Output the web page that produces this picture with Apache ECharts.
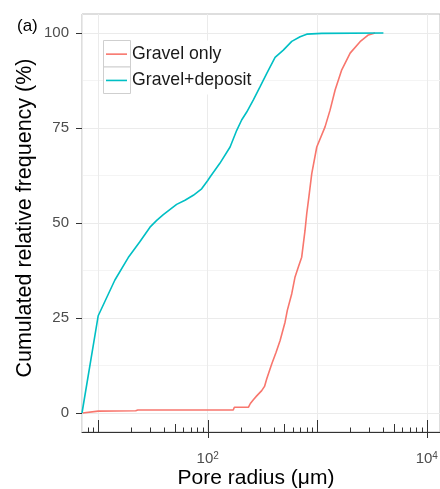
<!DOCTYPE html>
<html>
<head>
<meta charset="utf-8">
<script src="https://cdn.jsdelivr.net/npm/echarts@6/dist/echarts.min.js"></script>
<style>
  html, body { margin: 0; padding: 0; background: #fff; }
  #chart { width: 440px; height: 489px; }
</style>
</head>
<body>
<div id="chart"></div>
<script>
// pore radius (um) and cumulated frequency (%)
const gravelRadius = [7.2, 10, 22, 23, 171, 175, 235, 245, 261, 280, 311, 330, 346, 384, 421, 458, 508, 533, 585, 627, 672, 721, 774, 802, 840, 891, 990, 1178, 1309, 1456, 1674, 1997, 2460, 2930, 3370]
const gravelFreq = [0, 0.5, 0.6, 0.8, 0.8, 1.5, 1.5, 2.5, 3.5, 4.5, 5.9, 7, 9.0, 12.9, 16, 19.1, 23.9, 27, 31.4, 35.8, 38.4, 41, 48.1, 52.5, 57, 63, 70, 75.3, 79.7, 85, 90.3, 94.7, 97.7, 99.5, 100]
const depositRadius = [7.11, 10, 14.2, 18.8, 23.9, 29.7, 34.2, 39.3, 52, 62, 73.8, 88, 100, 105, 129, 160, 184, 204, 227, 261, 300, 346, 412, 490, 585, 697, 802, 1100, 4020]
const depositFreq = [0, 25.6, 35, 40.9, 45.0, 48.9, 50.7, 52.2, 54.9, 56.0, 57.3, 59.0, 61.2, 62.1, 65.7, 70, 74.4, 77.1, 79.2, 82.4, 85.8, 89.4, 93.6, 95.5, 97.8, 99.0, 99.7, 99.9, 100]

const yTickValues = [0, 25, 50, 75, 100]
const yMinorValues = [12.5, 37.5, 62.5, 87.5]
const xLabelPowers = [2, 4]
const xMin = 7.11
const xMax = 13210
const yMin = -5
const yMax = 105

// annotation log ticks: 1..9 x 10^e inside the axis range
const logTicks = []
for (let e = 0; e <= 4; e++) {
  for (let m = 1; m <= 9; m++) {
    const v = m * Math.pow(10, e)
    if (v >= xMin && v <= xMax) {
      const kind = m === 1 ? 2 : (m === 5 ? 1 : 0)
      const labelled = m === 1 && xLabelPowers.indexOf(e) >= 0 ? 1 : 0
      logTicks.push([v, yMin, kind, labelled])
    }
  }
}

const font = 'Liberation Sans, Arial, sans-serif'
const chart = echarts.init(document.getElementById('chart'))

chart.setOption({
  animation: false,
  textStyle: { fontFamily: font },
  grid: {
    left: 82,
    right: 0,
    top: 14,
    bottom: 57,
    outerBoundsMode: 'none',
    show: true,
    borderColor: '#bdbdbd',
    borderWidth: 1
  },
  legend: {
    orient: 'vertical',
    left: 106,
    top: 41,
    icon: 'rect',
    itemWidth: 21,
    itemHeight: 1.6,
    itemGap: 0,
    padding: 0,
    z: 10,
    textStyle: { fontSize: 17.7, lineHeight: 26.3, color: '#1a1a1a', fontFamily: font },
    data: ['Gravel only', 'Gravel+deposit']
  },
  graphic: [
    { type: 'rect', z: 1, shape: { x: 103, y: 40.5, width: 154, height: 54 }, style: { fill: '#fff' } },
    { type: 'rect', z: 1, shape: { x: 103.5, y: 40.5, width: 27, height: 26.5 }, style: { fill: '#fff', stroke: '#cfcfcf', lineWidth: 1 } },
    { type: 'rect', z: 1, shape: { x: 103.5, y: 67, width: 27, height: 26.5 }, style: { fill: '#fff', stroke: '#cfcfcf', lineWidth: 1 } },
    { type: 'text', left: 17, top: 18, style: { text: '(a)', fontSize: 17, fill: '#000', fontFamily: font } }
  ],
  xAxis: {
    type: 'log',
    logBase: 10,
    min: xMin,
    max: xMax,
    name: 'Pore radius (μm)',
    nameLocation: 'middle',
    nameGap: 35.5,
    nameMoveOverlap: false,
    nameTextStyle: { fontSize: 21, color: '#000', padding: [0, 10, 0, 0] },
    axisLine: { show: true, onZero: false, lineStyle: { color: '#333', width: 1 } },
    axisTick: { show: false },
    axisLabel: {
      margin: 19,
      formatter: function (v) {
        const e = Math.log10(v)
        const r = Math.round(e)
        if (Math.abs(e - r) < 1e-6 && xLabelPowers.indexOf(r) >= 0) {
          return '{b|10}{s|' + r + '}'
        }
        return ''
      },
      rich: {
        b: { fontSize: 15, lineHeight: 15, color: '#4d4d4d', verticalAlign: 'bottom', fontFamily: font },
        s: { fontSize: 10, lineHeight: 10, color: '#4d4d4d', verticalAlign: 'top', padding: [0, 0, 13, 0], fontFamily: font }
      }
    },
    splitLine: { show: true, lineStyle: { color: '#ebebeb', width: 1 } }
  },
  yAxis: [
    {
      type: 'value',
      min: yMin,
      max: yMax,
      name: 'Cumulated relative frequency (%)',
      nameLocation: 'middle',
      nameGap: 46,
      nameMoveOverlap: false,
      nameTextStyle: { fontSize: 21.5, color: '#000', padding: [0, 0, 0, 10] },
      axisLine: { show: false },
      axisTick: { show: true, length: 6, customValues: yTickValues, lineStyle: { color: '#333' } },
      axisLabel: { margin: 13, fontSize: 15, color: '#4d4d4d', customValues: yTickValues },
      splitLine: { show: true, lineStyle: { color: '#ebebeb', width: 1 } }
    },
    {
      type: 'value',
      min: yMin,
      max: yMax,
      position: 'left',
      axisLine: { show: false },
      axisTick: { show: false, customValues: yMinorValues },
      axisLabel: { show: false },
      splitLine: { show: true, lineStyle: { color: '#f4f4f4', width: 1 } }
    }
  ],
  series: [
    {
      name: 'Gravel only',
      type: 'line',
      color: '#F8766D',
      showSymbol: false,
      symbol: 'none',
      lineStyle: { width: 1.6 },
      data: gravelRadius.map((r, i) => [r, gravelFreq[i]])
    },
    {
      name: 'Gravel+deposit',
      type: 'line',
      color: '#00BFC4',
      showSymbol: false,
      symbol: 'none',
      lineStyle: { width: 1.6 },
      data: depositRadius.map((r, i) => [r, depositFreq[i]])
    },
    {
      name: 'logticks',
      type: 'custom',
      silent: true,
      clip: false,
      z: 5,
      encode: { x: 0, y: 1 },
      data: logTicks,
      renderItem: function (params, api) {
        const p = api.coord([api.value(0), api.value(1)])
        const kind = api.value(2)
        const len = kind === 2 ? 12 : (kind === 1 ? 8 : 4.5)
        const x = Math.round(p[0]) + 0.5
        const y2 = api.value(3) ? p[1] + 6 : p[1]
        return {
          type: 'line',
          shape: { x1: x, y1: p[1] - len, x2: x, y2: y2 },
          style: { stroke: '#333', lineWidth: 1 }
        }
      }
    }
  ]
})
</script>
</body>
</html>
